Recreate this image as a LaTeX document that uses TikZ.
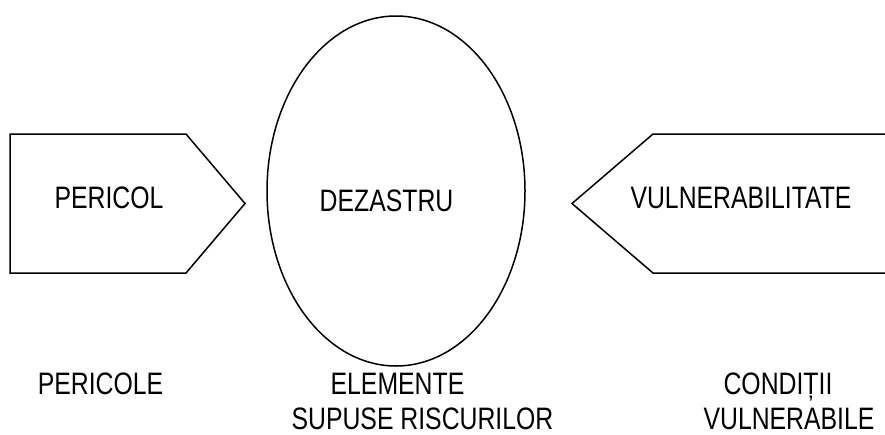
\documentclass[tikz,border=0pt]{standalone}
\usepackage{fontspec}
\setmainfont[FakeStretch=0.8]{Liberation Sans}
\usetikzlibrary{shapes.geometric}
\begin{document}
\begin{tikzpicture}[x=1pt,y=-1pt,
  shapeline/.style={draw=black,line width=1.5pt,line join=miter},
  lbl/.style={inner sep=0pt,anchor=base,font=\fontsize{31}{37}\selectfont}]
\clip (0,0) rectangle (885,434);
\useasboundingbox (0,0) rectangle (885,434);
% left pentagon
\draw[shapeline] (10,134) -- (186,134) -- (245,203.5) -- (186,273) -- (10,273) -- cycle;
% right pentagon (extends past the right edge)
\draw[shapeline] (900,134) -- (653,134) -- (572,203.5) -- (653,273) -- (900,273);
% ellipse
\node[shapeline,ellipse,minimum width=258pt,minimum height=350pt,inner sep=0pt] (dez) at (396,191) {};
% labels
\node[lbl] (pericol) at (109,208) {PERICOL};
\node[lbl] (dezastru) at (386.5,211) {DEZASTRU};
\node[lbl] (vuln) at (741,208) {VULNERABILITATE};
\node[lbl] (pericole) at (100.5,394) {PERICOLE};
\node[lbl] (elem) at (397.5,394) {ELEMENTE};
\node[lbl] (supuse) at (422.5,429.5) {SUPUSE RISCURILOR};
\node[lbl] (cond) at (778,394) {CONDIȚII};
\node[lbl] (vulnb) at (789,429.5) {VULNERABILE};
\end{tikzpicture}
\end{document}
